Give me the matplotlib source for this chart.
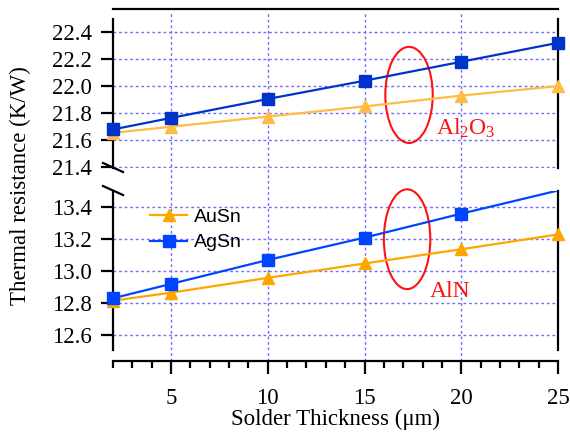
import matplotlib
matplotlib.use("Agg")
import matplotlib.pyplot as plt
from matplotlib.patches import Ellipse
from matplotlib.ticker import MultipleLocator, FixedLocator

# ---- data ----
thickness = [2, 5, 10, 15, 20, 25]
al2o3_ausn = [21.655, 21.70, 21.775, 21.85, 21.93, 22.00]
al2o3_agsn = [21.68, 21.765, 21.905, 22.04, 22.18, 22.32]
aln_ausn = [12.815, 12.865, 12.958, 13.048, 13.137, 13.23]
aln_agsn = [12.83, 12.92, 13.07, 13.21, 13.36, 13.505]
top_yticks = [21.4, 21.6, 21.8, 22.0, 22.2, 22.4]
bot_yticks = [12.6, 12.8, 13.0, 13.2, 13.4]
xticks = [5, 10, 15, 20, 25]

W, H = 570, 437
fig = plt.figure(figsize=(W / 100, H / 100), dpi=100)
plt.rcParams['font.family'] = ['Liberation Serif', 'DejaVu Serif']
plt.rcParams['mathtext.fontset'] = 'custom'
plt.rcParams['mathtext.rm'] = 'Liberation Serif'
plt.rcParams['mathtext.it'] = 'Liberation Serif'

def box(l, t, r, b):
    return [l / W, 1 - b / H, (r - l) / W, (b - t) / H]

XL, XR = 113, 558
grid_col = '#6f6fff'
grid_kw = dict(color=grid_col, linestyle=(0, (2, 2)), linewidth=1.0)
TICK_FS = 16.5

# background axes for continuous vertical gridlines
axbg = fig.add_axes(box(XL, 13, XR, 361))
axbg.set_xlim(2, 25)
axbg.set_ylim(0, 1)
axbg.xaxis.set_major_locator(FixedLocator(xticks[:-1]))
axbg.grid(axis='x', **grid_kw)
axbg.tick_params(left=False, bottom=False, labelleft=False, labelbottom=False)
for s in axbg.spines.values():
    s.set_visible(False)
axbg.patch.set_visible(False)

axt = fig.add_axes(box(XL, 19, XR, 168))
axb = fig.add_axes(box(XL, 191, XR, 350))

for ax in (axt, axb):
    ax.patch.set_visible(False)
    ax.set_xlim(2, 25)
    ax.spines['left'].set_linewidth(1.6)
    ax.spines['right'].set_linewidth(1.6)
    ax.tick_params(axis='y', direction='out', length=9, width=1.6,
                   labelsize=TICK_FS, pad=6)
    ax.grid(axis='y', **grid_kw)
    ax.set_axisbelow(True)

axt.set_ylim(21.395, 22.496)
axt.set_yticks(top_yticks)
axt.set_yticklabels([f"{v:.1f}" for v in top_yticks])
axt.spines['bottom'].set_visible(False)
axt.spines['top'].set_position(('outward', 7))
axt.spines['top'].set_linewidth(1.6)
axt.tick_params(axis='x', bottom=False, labelbottom=False, top=False)

axb.set_ylim(12.506, 13.502)
axb.set_yticks(bot_yticks)
axb.set_yticklabels([f"{v:.1f}" for v in bot_yticks])
axb.spines['top'].set_visible(False)
axb.spines['bottom'].set_position(('outward', 8))
axb.spines['bottom'].set_linewidth(1.6)
axb.xaxis.set_major_locator(FixedLocator(xticks))
axb.xaxis.set_minor_locator(MultipleLocator(1))
axb.tick_params(axis='x', which='major', direction='out', length=9, width=1.6,
                labelsize=TICK_FS, pad=10)
axb.tick_params(axis='x', which='minor', direction='out', length=5, width=1.6)

ms = 8.5
axt.plot(thickness, al2o3_ausn, color='#ffbb44', marker='^', ms=ms, lw=1.6,
         clip_on=False, zorder=5)
axt.plot(thickness, al2o3_agsn, color='#0033cc', marker='s', ms=ms, lw=1.6,
         clip_on=False, zorder=6)
axb.plot(thickness, aln_ausn, color='#ffa500', marker='^', ms=ms, lw=1.6,
         clip_on=False, zorder=5, label='AuSn')
axb.plot(thickness[:-1], aln_agsn[:-1], color='#0044ff', marker='s', ms=ms,
         lw=0, clip_on=False, zorder=6)
axb.plot(thickness, aln_agsn, color='#0044ff', lw=1.6, zorder=6)
axb.plot([], [], color='#0044ff', marker='s', ms=ms, lw=1.6, label='AgSn')

leg = axb.legend(loc='upper left', bbox_to_anchor=(0.066, 0.94), frameon=False,
                 prop={'family': 'Liberation Sans', 'size': 14},
                 handlelength=1.9, handletextpad=0.35, labelspacing=0.4,
                 borderaxespad=0)

# break marks
for y0 in (168, 191):
    x1, y1 = 103 / W, 1 - (y0 - 5) / H
    x2, y2 = 123 / W, 1 - (y0 + 4) / H
    fig.add_artist(plt.Line2D([x1, x2], [y1, y2], color='black', lw=1.6))

# annotations
axt.add_patch(Ellipse((17.3, 21.935), 2.45, 0.71, fill=False,
                      edgecolor='#ff1111', lw=1.5, clip_on=False))
axt.text(18.7, 21.64, 'Al$_2$O$_3$', color='#ff1111', fontsize=17,
         ha='left', va='baseline')
axb.add_patch(Ellipse((17.2, 13.2), 2.4, 0.625, fill=False,
                      edgecolor='#ff1111', lw=1.5, clip_on=False))
axb.text(18.35, 12.838, 'AlN', color='#ff1111', fontsize=17,
         ha='left', va='baseline')

fig.text(20 / W, 1 - 186 / H, 'Thermal resistance (K/W)', rotation=90,
         fontsize=16.5, ha='center', va='center')
fig.text(335 / W, 1 - 419 / H, 'Solder Thickness (\u03bcm)',
         fontsize=16.5, ha='center', va='center')

fig.savefig('out.png', dpi=100)
